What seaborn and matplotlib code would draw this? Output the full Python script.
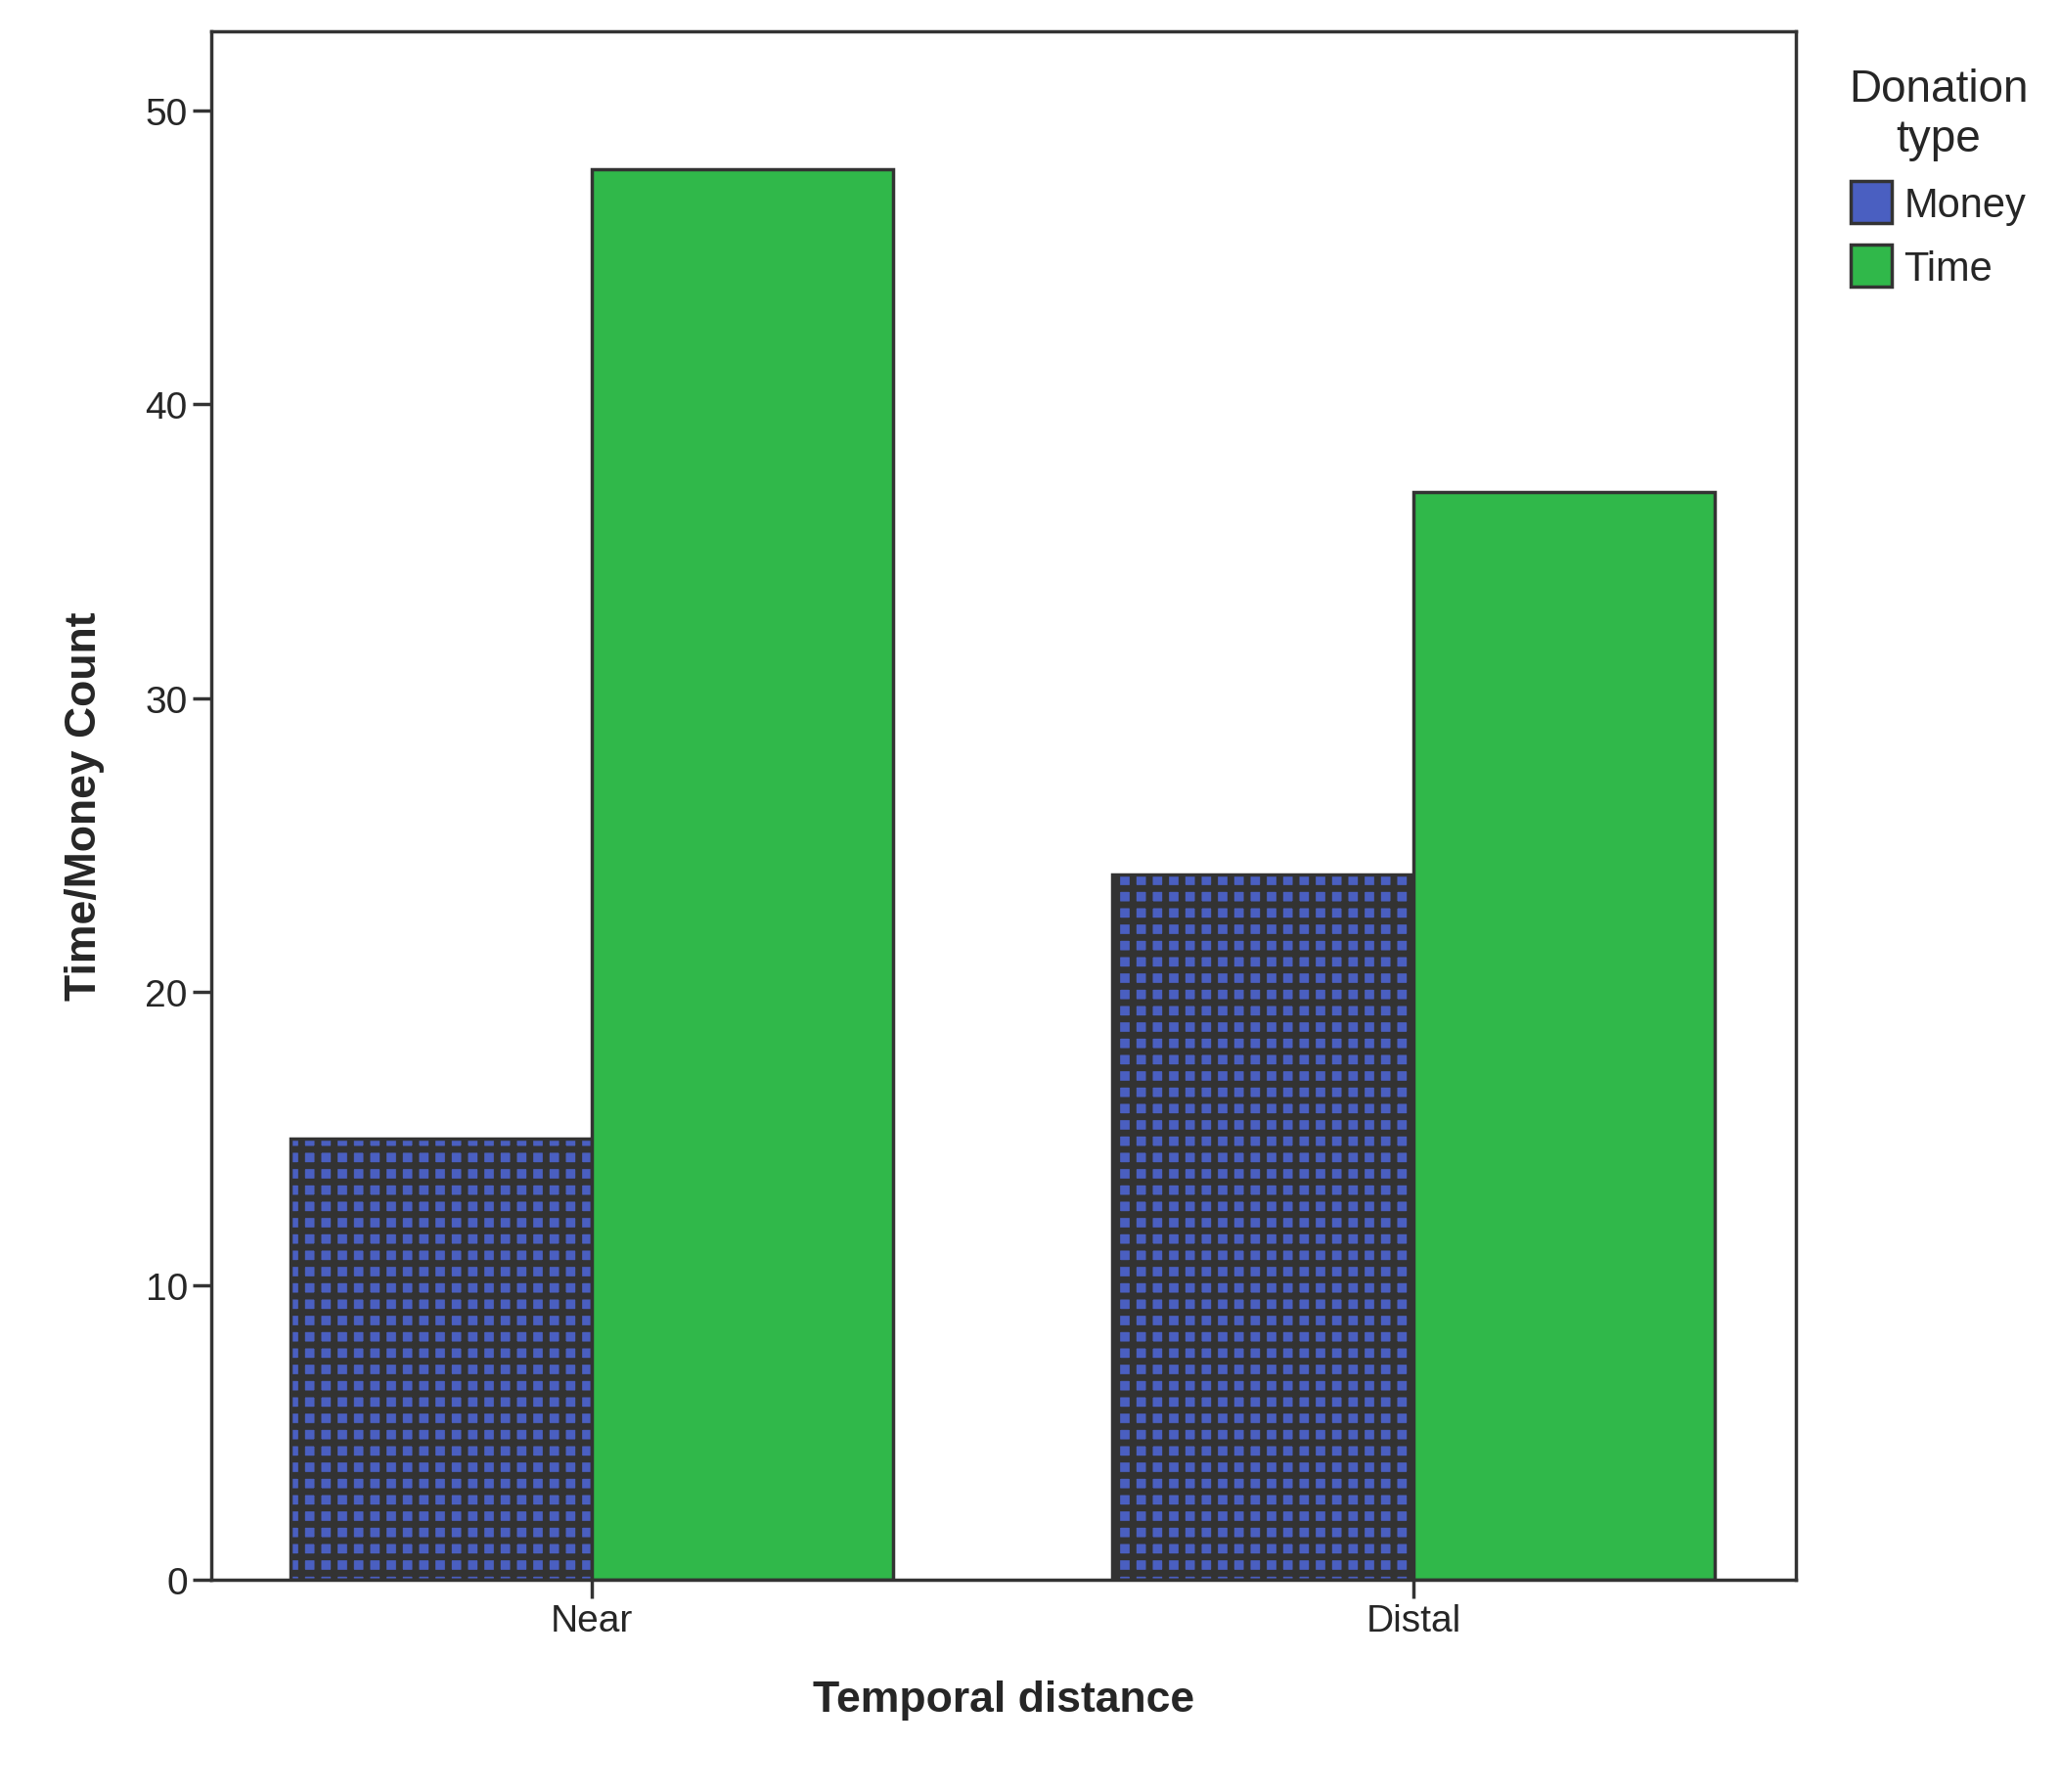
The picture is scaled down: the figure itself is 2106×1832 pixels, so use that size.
import pandas as pd
import matplotlib
matplotlib.use('Agg')
import matplotlib.pyplot as plt
import seaborn as sns

distances = ['Near', 'Distal']
donation_types = ['Money', 'Time']
money_counts = [15, 24]
time_counts = [48, 37]

df = pd.DataFrame({
    'Temporal distance': distances * 2,
    'Donation type': ['Money'] * 2 + ['Time'] * 2,
    'Count': money_counts + time_counts,
})

sns.set_style('white')
plt.rcParams['font.family'] = ['Liberation Sans', 'DejaVu Sans']
plt.rcParams['hatch.linewidth'] = 5
plt.rcParams['hatch.color'] = 'black'

fig = plt.figure(figsize=(21.06, 18.33), dpi=100)
ax = fig.add_axes([0.1026, 0.1186, 0.7694, 0.8634])

colors = {'Money': '#4a5fc1', 'Time': '#30b84a'}
sns.barplot(data=df, x='Temporal distance', y='Count', hue='Donation type',
            hue_order=donation_types, order=distances, palette=colors,
            width=0.733, edgecolor='#333333', linewidth=2.5, ax=ax,
            saturation=1, legend=True)

for p in ax.patches[:2]:
    p.set_hatch('+')

ax.set_ylim(0, 52.7)
ax.set_xlim(-0.463, 1.466)
ax.set_yticks([0, 10, 20, 30, 40, 50])
ax.tick_params(axis='both', labelsize=28, length=14, width=2.5, direction='out',
               left=True, bottom=True, color='#333333')
ax.set_ylabel('Time/Money Count', fontsize=32, fontweight='bold', labelpad=30)
ax.set_xlabel('Temporal distance', fontsize=32, fontweight='bold', labelpad=30)
for s in ax.spines.values():
    s.set_color('#333333')
    s.set_linewidth(2.5)

leg = ax.legend(title='Donation type', loc='upper left', bbox_to_anchor=(1.01, 1.0),
                frameon=False, fontsize=30, title_fontsize=33,
                handlelength=1.0, handleheight=1.2, handletextpad=0.3)
leg._legend_box.align = 'center'
leg.get_title().set_multialignment('center')
leg.set_title('Donation\ntype')
leg.get_title().set_ha('center')

fig.savefig('out.png', dpi=100)
